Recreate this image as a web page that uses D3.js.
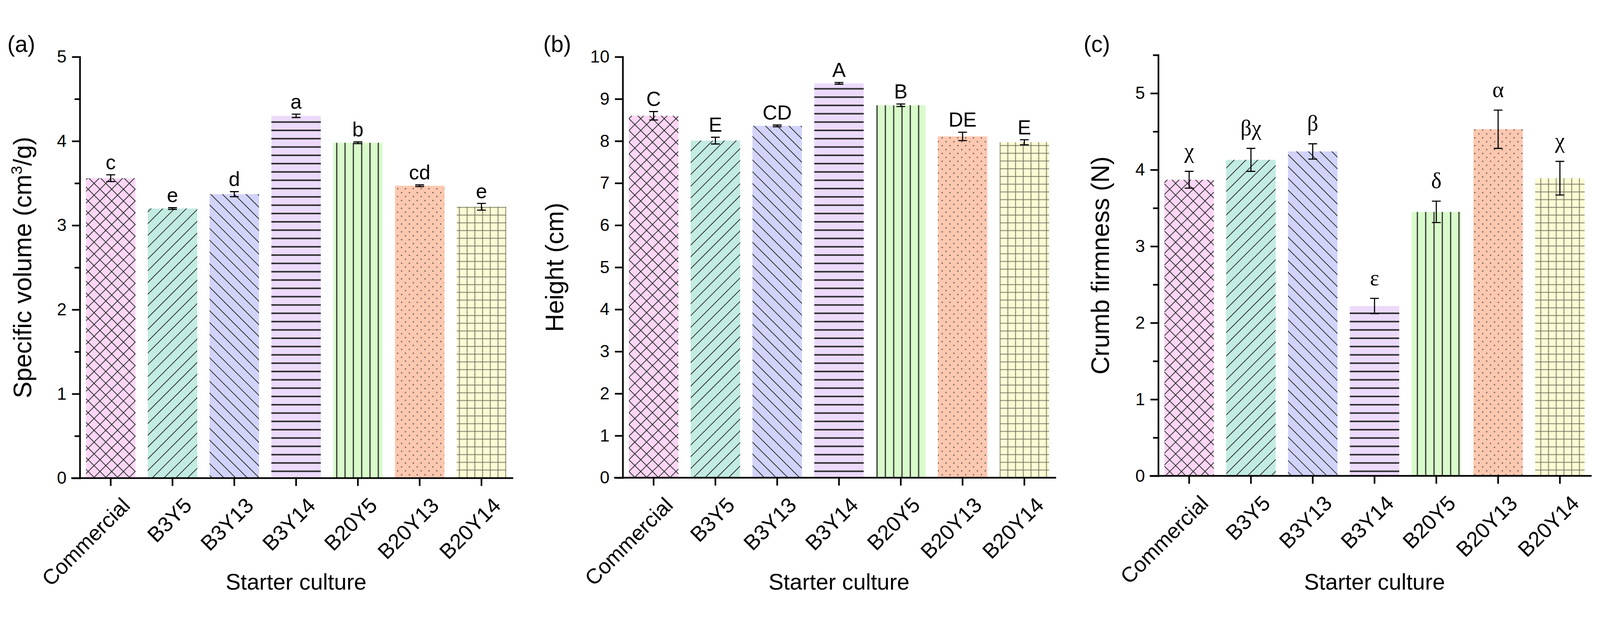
<!DOCTYPE html>
<html>
<head>
<meta charset="utf-8">
<script src="https://cdn.jsdelivr.net/npm/d3@7"></script>
<style>
  html, body { margin: 0; padding: 0; background: #fff; overflow: hidden; }
  #chart svg { display: block; width: 100vw; height: 100vh; }
  text { font-family: "Liberation Sans", Arial, sans-serif; fill: #000; }
</style>
</head>
<body>
<div id="chart"></div>
<script>
// three bar panels for the starter culture bread data

const width = 4350;
const height = 1597;

// data
const categories = ["Commercial", "B3Y5", "B3Y13", "B3Y14", "B20Y5", "B20Y13", "B20Y14"];

const volume = [3.56, 3.20, 3.37, 4.30, 3.98, 3.47, 3.22];
const volumeErr = [0.04, 0.01, 0.03, 0.02, 0.01, 0.01, 0.04];
const volumeLetters = ["c", "e", "d", "a", "b", "cd", "e"];
const volumeTicks = [0, 1, 2, 3, 4, 5];

const loafHeight = [8.60, 8.01, 8.36, 9.37, 8.85, 8.11, 7.97];
const loafHeightErr = [0.10, 0.08, 0.02, 0.02, 0.03, 0.10, 0.06];
const loafHeightLetters = ["C", "E", "CD", "A", "B", "DE", "E"];
const loafHeightTicks = [0, 1, 2, 3, 4, 5, 6, 7, 8, 9, 10];

const firmness = [3.87, 4.13, 4.24, 2.22, 3.45, 4.53, 3.89];
const firmnessErr = [0.11, 0.15, 0.10, 0.10, 0.14, 0.25, 0.22];
const firmnessLetters = ["χ", "βχ", "β", "ε", "δ", "α", "χ"];
const firmnessTicks = [0, 1, 2, 3, 4, 5];

const barColors = ["#fdd6f6", "#c2ebe2", "#d2d3fa", "#ecdafb", "#d9fbcb", "#fdc8b0", "#fbfbd5"];
const barPatterns = ["cross", "fwd", "back", "horiz", "vert", "dots", "grid"];

// svg scales to the window so nothing gets cut at the edge
const svg = d3.select("#chart")
  .append("svg")
  .attr("viewBox", [0, 0, width, height])
  .attr("preserveAspectRatio", "xMidYMid meet");

// hatch patterns, one per bar
const defs = svg.append("defs");
const ink = "#262626";

let p = defs.append("pattern").attr("id", "cross")
  .attr("patternUnits", "userSpaceOnUse").attr("width", 22.6).attr("height", 22.6)
  .attr("patternTransform", "rotate(45)");
p.append("rect").attr("width", 22.6).attr("height", 2).attr("fill", ink);
p.append("rect").attr("width", 2).attr("height", 22.6).attr("fill", ink);

p = defs.append("pattern").attr("id", "fwd")
  .attr("patternUnits", "userSpaceOnUse").attr("width", 22.6).attr("height", 22.6)
  .attr("patternTransform", "rotate(-45)");
p.append("rect").attr("width", 22.6).attr("height", 2).attr("fill", ink);

p = defs.append("pattern").attr("id", "back")
  .attr("patternUnits", "userSpaceOnUse").attr("width", 22.6).attr("height", 22.6)
  .attr("patternTransform", "rotate(45)");
p.append("rect").attr("width", 22.6).attr("height", 2).attr("fill", ink);

p = defs.append("pattern").attr("id", "horiz")
  .attr("patternUnits", "userSpaceOnUse").attr("width", 10).attr("height", 22.6);
p.append("rect").attr("y", 9).attr("width", 10).attr("height", 4).attr("fill", ink);

p = defs.append("pattern").attr("id", "vert")
  .attr("patternUnits", "userSpaceOnUse").attr("width", 22.6).attr("height", 10);
p.append("rect").attr("x", 10).attr("width", 3).attr("height", 10).attr("fill", ink);

p = defs.append("pattern").attr("id", "dots")
  .attr("patternUnits", "userSpaceOnUse").attr("width", 21.3).attr("height", 21.3);
p.append("rect").attr("x", 4).attr("y", 4).attr("width", 3).attr("height", 3).attr("fill", "#444");
p.append("rect").attr("x", 14.65).attr("y", 14.65).attr("width", 3).attr("height", 3).attr("fill", "#444");

p = defs.append("pattern").attr("id", "grid")
  .attr("patternUnits", "userSpaceOnUse").attr("width", 21).attr("height", 21);
p.append("line").attr("x1", 0).attr("x2", 21).attr("y1", 10).attr("y2", 10)
  .attr("stroke", "#4a4a3a").attr("stroke-width", 2.4).attr("stroke-dasharray", "2,1");
p.append("line").attr("x1", 10).attr("x2", 10).attr("y1", 0).attr("y2", 21)
  .attr("stroke", "#4a4a3a").attr("stroke-width", 2.4).attr("stroke-dasharray", "2,1");

function drawPanel(cfg) {
  const g = svg.append("g");

  const x = d3.scaleBand()
    .domain(categories)
    .range([cfg.left, cfg.left + 1176])
    .paddingInner(0.2)
    .paddingOuter(0.1);

  const y = d3.scaleLinear()
    .domain([0, cfg.top])
    .range([cfg.bottom, cfg.topPx]);

  // bars, colour first then hatch on top
  const bars = g.selectAll(".bar")
    .data(categories)
    .enter()
    .append("g")
    .attr("class", "bar");

  bars.append("rect")
    .attr("x", d => x(d))
    .attr("y", (d, i) => y(cfg.values[i]))
    .attr("width", x.bandwidth())
    .attr("height", (d, i) => y(0) - y(cfg.values[i]))
    .attr("fill", (d, i) => barColors[i]);

  bars.append("rect")
    .attr("x", d => x(d))
    .attr("y", (d, i) => y(cfg.values[i]))
    .attr("width", x.bandwidth())
    .attr("height", (d, i) => y(0) - y(cfg.values[i]))
    .attr("fill", (d, i) => `url(#${barPatterns[i]})`);

  // error bars
  const cap = 12;
  bars.append("path")
    .attr("d", (d, i) => {
      const cx = x(d) + x.bandwidth() / 2;
      const lo = y(cfg.values[i] - cfg.errs[i]);
      const hi = y(cfg.values[i] + cfg.errs[i]);
      return `M${cx},${lo}V${hi}M${cx - cap},${lo}H${cx + cap}M${cx - cap},${hi}H${cx + cap}`;
    })
    .attr("stroke", "#000")
    .attr("stroke-width", 3)
    .attr("fill", "none");

  // significance letters
  bars.append("text")
    .attr("x", d => x(d) + x.bandwidth() / 2)
    .attr("y", (d, i) => y(cfg.values[i] + cfg.errs[i]) - cfg.letterGap)
    .attr("text-anchor", "middle")
    .attr("font-size", cfg.letterSize)
    .style("font-family", cfg.letterFont)
    .text((d, i) => cfg.letters[i]);

  // y axis with major and minor ticks
  const yAxis = g.append("g")
    .attr("transform", `translate(${cfg.left},0)`)
    .call(d3.axisLeft(y).tickValues(cfg.ticks).tickFormat(d3.format("d"))
      .tickSize(19).tickSizeOuter(0).tickPadding(17));
  yAxis.selectAll("text").attr("font-size", 47).style("font-family", '"Liberation Sans", Arial, sans-serif');

  if (cfg.minor.length) {
    g.append("g")
      .attr("transform", `translate(${cfg.left},0)`)
      .call(d3.axisLeft(y).tickValues(cfg.minor).tickSize(12).tickSizeOuter(0).tickFormat(""))
      .select(".domain").remove();
  }

  // x axis
  const xAxis = g.append("g")
    .attr("transform", `translate(0,${y(0)})`)
    .call(d3.axisBottom(x).tickSize(19).tickSizeOuter(0));
  xAxis.select(".domain")
    .attr("d", `M${x.range()[0] - 21},0H${x.range()[1]}`);
  xAxis.selectAll("text")
    .attr("x", 0).attr("y", 0).attr("dy", 0)
    .attr("text-anchor", "end")
    .attr("transform", "translate(56,78) rotate(-45)")
    .attr("font-size", 58)
    .style("font-family", '"Liberation Sans", Arial, sans-serif');

  g.selectAll(".domain, .tick line")
    .attr("stroke", "#000")
    .attr("stroke-width", 4.5)
    .attr("stroke-linecap", "square");

  // axis titles
  g.append("text")
    .attr("x", (x.range()[0] + x.range()[1]) / 2)
    .attr("y", 1553)
    .attr("text-anchor", "middle")
    .attr("font-size", 61)
    .text("Starter culture");

  const yt = g.append("text")
    .attr("transform", `translate(${cfg.left - cfg.titleOffset},${(y.range()[0] + y.range()[1]) / 2}) rotate(-90)`)
    .attr("text-anchor", "middle")
    .attr("font-size", 68);
  yt.append("tspan").text(cfg.title[0]);
  if (cfg.title.length > 1) {
    yt.append("tspan").attr("dy", -26).attr("font-size", 42).text(cfg.title[1]);
    yt.append("tspan").attr("dy", 26).text(cfg.title[2]);
  }

  // panel tag
  g.append("text")
    .attr("x", cfg.tagX)
    .attr("y", 92)
    .attr("font-size", 62)
    .text(cfg.tag);
}

drawPanel({
  left: 217, bottom: 1250, topPx: 105, top: 5,
  values: volume, errs: volumeErr, letters: volumeLetters,
  ticks: volumeTicks, minor: [0.5, 1.5, 2.5, 3.5, 4.5],
  letterGap: 15, letterSize: 55, letterFont: '"Liberation Sans", Arial, sans-serif',
  title: ["Specific volume (cm", "3", "/g)"], titleOffset: 132,
  tag: "(a)", tagX: 20
});

drawPanel({
  left: 1693, bottom: 1249, topPx: 105, top: 10,
  values: loafHeight, errs: loafHeightErr, letters: loafHeightLetters,
  ticks: loafHeightTicks, minor: [],
  letterGap: 15, letterSize: 55, letterFont: '"Liberation Sans", Arial, sans-serif',
  title: ["Height (cm)"], titleOffset: 162,
  tag: "(b)", tagX: 1477
});

drawPanel({
  left: 3149, bottom: 1244, topPx: 100, top: 5.5,
  values: firmness, errs: firmnessErr, letters: firmnessLetters,
  ticks: firmnessTicks, minor: [0.5, 1.5, 2.5, 3.5, 4.5, 5.5],
  letterGap: 36, letterSize: 60, letterFont: '"Liberation Serif", "Times New Roman", serif',
  title: ["Crumb firmness (N)"], titleOffset: 134,
  tag: "(c)", tagX: 2946
});
</script>
</body>
</html>
